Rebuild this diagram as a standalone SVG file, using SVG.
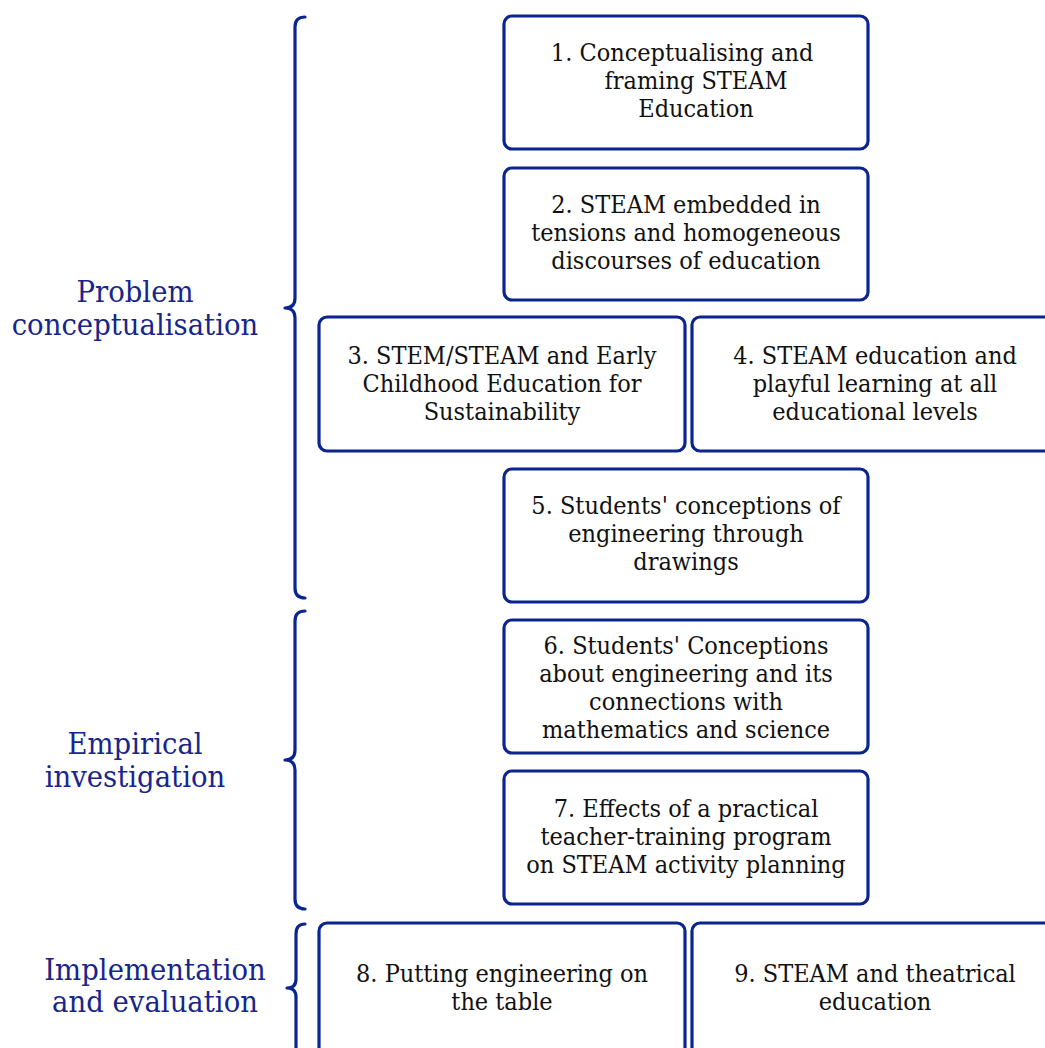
<svg xmlns="http://www.w3.org/2000/svg" width="1045" height="1048" viewBox="0 0 1045 1048">
  <style>
    .box { fill: #ffffff; stroke: #0b2590; stroke-width: 3.2; }
    .brace { fill: none; stroke: #0b2590; stroke-width: 3.2; stroke-linecap: round; stroke-linejoin: round; }
    .t { font-family: "DejaVu Serif", "Liberation Serif", serif; font-size: 25px; fill: #111111; text-anchor: middle; }
    .lbl { font-family: "DejaVu Serif", "Liberation Serif", serif; font-size: 29px; fill: #17268c; text-anchor: middle; }
  </style>
  <rect width="1045" height="1048" fill="#ffffff"/>

  <!-- phase braces -->
  <g id="connectors">
    <path class="brace" d="M305,17 Q295,17 295,27 L295,298 Q295,308 285,308 Q295,308 295,318 L295,588 Q295,598 305,598"/>
    <path class="brace" d="M305,611 Q295,611 295,621 L295,750 Q295,760 285,760 Q295,760 295,770 L295,899 Q295,909 305,909"/>
    <path class="brace" d="M305,924 Q296,924 296,934 L296,979 Q296,988 287,988 Q296,988 296,997 L296,1060"/>
  </g>

  <!-- phase labels -->
  <g id="label-problem">
    <text class="lbl" transform="translate(135,0) scale(0.95,1)"><tspan x="0" y="302">Problem</tspan><tspan x="0" y="335">conceptualisation</tspan></text>
  </g>
  <g id="label-empirical">
    <text class="lbl" transform="translate(135,0) scale(0.95,1)"><tspan x="0" y="754">Empirical</tspan><tspan x="0" y="787">investigation</tspan></text>
  </g>
  <g id="label-implementation">
    <text class="lbl" transform="translate(155,0) scale(0.95,1)"><tspan x="0" y="980">Implementation</tspan><tspan x="0" y="1012">and evaluation</tspan></text>
  </g>

  <!-- study boxes -->
  <g id="node-1">
    <rect class="box" x="504" y="16" width="364" height="133" rx="8"/>
    <text class="t" transform="translate(686,0) scale(0.9,1)"><tspan x="-4.4" y="61.5">1. Conceptualising and</tspan><tspan x="11.1" y="89.5">framing STEAM</tspan><tspan x="11.1" y="117">Education</tspan></text>
  </g>
  <g id="node-2">
    <rect class="box" x="504" y="168" width="364" height="132" rx="8"/>
    <text class="t" transform="translate(686,0) scale(0.9,1)"><tspan x="0" y="213">2. STEAM embedded in</tspan><tspan x="0" y="241">tensions and homogeneous</tspan><tspan x="0" y="269">discourses of education</tspan></text>
  </g>
  <g id="node-3">
    <rect class="box" x="319" y="317" width="366" height="134" rx="8"/>
    <text class="t" transform="translate(502,0) scale(0.9,1)"><tspan x="0" y="364">3. STEM/STEAM and Early</tspan><tspan x="0" y="392">Childhood Education for</tspan><tspan x="0" y="420">Sustainability</tspan></text>
  </g>
  <g id="node-4">
    <rect class="box" x="692" y="317" width="366" height="134" rx="8"/>
    <text class="t" transform="translate(875,0) scale(0.9,1)"><tspan x="0" y="364">4. STEAM education and</tspan><tspan x="0" y="392">playful learning at all</tspan><tspan x="0" y="420">educational levels</tspan></text>
  </g>
  <g id="node-5">
    <rect class="box" x="504" y="469" width="364" height="133" rx="8"/>
    <text class="t" transform="translate(686,0) scale(0.9,1)"><tspan x="0" y="514">5. Students' conceptions of</tspan><tspan x="0" y="542">engineering through</tspan><tspan x="0" y="570">drawings</tspan></text>
  </g>
  <g id="node-6">
    <rect class="box" x="504" y="620" width="364" height="133" rx="8"/>
    <text class="t" transform="translate(686,0) scale(0.9,1)"><tspan x="0" y="654">6. Students' Conceptions</tspan><tspan x="0" y="682">about engineering and its</tspan><tspan x="0" y="710">connections with</tspan><tspan x="0" y="738">mathematics and science</tspan></text>
  </g>
  <g id="node-7">
    <rect class="box" x="504" y="771" width="364" height="133" rx="8"/>
    <text class="t" transform="translate(686,0) scale(0.9,1)"><tspan x="0" y="817">7. Effects of a practical</tspan><tspan x="0" y="845">teacher-training program</tspan><tspan x="0" y="873">on STEAM activity planning</tspan></text>
  </g>
  <g id="node-8">
    <rect class="box" x="319" y="923" width="366" height="140" rx="8"/>
    <text class="t" transform="translate(502,0) scale(0.9,1)"><tspan x="0" y="982">8. Putting engineering on</tspan><tspan x="0" y="1010">the table</tspan></text>
  </g>
  <g id="node-9">
    <rect class="box" x="692" y="923" width="366" height="140" rx="8"/>
    <text class="t" transform="translate(875,0) scale(0.9,1)"><tspan x="0" y="982">9. STEAM and theatrical</tspan><tspan x="0" y="1010">education</tspan></text>
  </g>
</svg>
